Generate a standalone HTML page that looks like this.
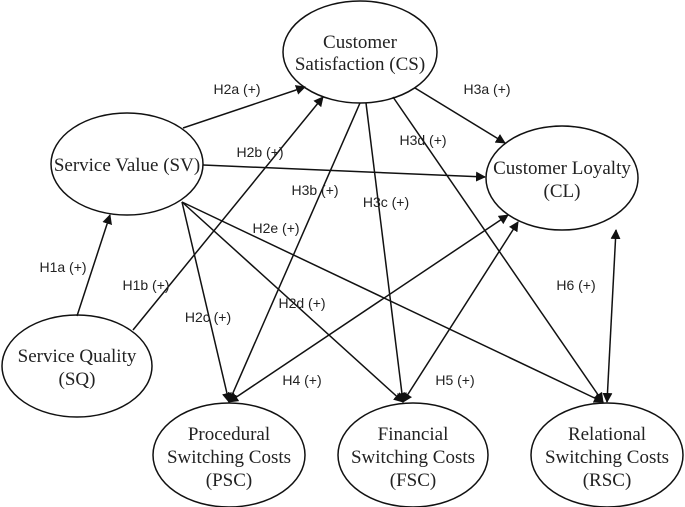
<!DOCTYPE html>
<html><head><meta charset="utf-8"><style>
html,body{margin:0;padding:0;background:#fff;}
svg{display:block;}
.n{font-family:"Liberation Serif",serif;font-size:19px;fill:#222;text-anchor:middle;}
.l{font-family:"Liberation Sans",sans-serif;font-size:14px;fill:#222;text-anchor:middle;}
</style></head><body>
<svg width="685" height="507" viewBox="0 0 685 507" xmlns="http://www.w3.org/2000/svg">
<defs>
<marker id="a" viewBox="0 0 10 10" refX="9" refY="5" markerWidth="10" markerHeight="10" orient="auto-start-reverse" markerUnits="userSpaceOnUse"><path d="M0,0 L10,5 L0,10 z" fill="#111"/></marker>
</defs>
<g stroke="#111" stroke-width="1.5" fill="none">
<ellipse cx="360" cy="52" rx="77" ry="51"/>
<ellipse cx="127" cy="164" rx="76" ry="51"/>
<ellipse cx="562" cy="178" rx="76" ry="52"/>
<ellipse cx="77" cy="366" rx="75" ry="51"/>
<ellipse cx="229" cy="455" rx="76" ry="52"/>
<ellipse cx="413" cy="455" rx="75" ry="52"/>
<ellipse cx="607" cy="455" rx="76" ry="52"/>
<line x1="183" y1="128" x2="305" y2="87" marker-end="url(#a)"/>
<line x1="77" y1="316" x2="110" y2="215" marker-end="url(#a)"/>
<line x1="133" y1="330" x2="323" y2="97" marker-end="url(#a)"/>
<line x1="203" y1="165" x2="485" y2="177" marker-end="url(#a)"/>
<line x1="415" y1="88" x2="505" y2="143" marker-end="url(#a)"/>
<line x1="182" y1="202" x2="229" y2="402" marker-end="url(#a)"/>
<line x1="182" y1="202" x2="403" y2="402" marker-end="url(#a)"/>
<line x1="182" y1="202" x2="603" y2="402" marker-end="url(#a)"/>
<line x1="360" y1="103" x2="229" y2="402" marker-end="url(#a)"/>
<line x1="366" y1="103" x2="403" y2="402" marker-end="url(#a)"/>
<line x1="393" y1="97" x2="603" y2="402" marker-end="url(#a)"/>
<line x1="508" y1="215" x2="229" y2="402" marker-start="url(#a)" marker-end="url(#a)"/>
<line x1="518" y1="222" x2="403" y2="402" marker-start="url(#a)" marker-end="url(#a)"/>
<line x1="616" y1="230" x2="607" y2="402" marker-start="url(#a)" marker-end="url(#a)"/>
</g>
<text class="n" x="360" y="48">Customer</text>
<text class="n" x="360" y="70">Satisfaction (CS)</text>
<text class="n" x="127" y="171">Service Value (SV)</text>
<text class="n" x="562" y="174">Customer Loyalty</text>
<text class="n" x="562" y="197">(CL)</text>
<text class="n" x="77" y="362">Service Quality</text>
<text class="n" x="77" y="385">(SQ)</text>
<text class="n" x="229" y="440">Procedural</text>
<text class="n" x="229" y="463">Switching Costs</text>
<text class="n" x="229" y="486">(PSC)</text>
<text class="n" x="413" y="440">Financial</text>
<text class="n" x="413" y="463">Switching Costs</text>
<text class="n" x="413" y="486">(FSC)</text>
<text class="n" x="607" y="440">Relational</text>
<text class="n" x="607" y="463">Switching Costs</text>
<text class="n" x="607" y="486">(RSC)</text>
<text class="l" x="237" y="94">H2a (+)</text>
<text class="l" x="487" y="94">H3a (+)</text>
<text class="l" x="260" y="157">H2b (+)</text>
<text class="l" x="423" y="145">H3d (+)</text>
<text class="l" x="315" y="195">H3b (+)</text>
<text class="l" x="386" y="207">H3c (+)</text>
<text class="l" x="276" y="233">H2e (+)</text>
<text class="l" x="63" y="272">H1a (+)</text>
<text class="l" x="146" y="290">H1b (+)</text>
<text class="l" x="302" y="308">H2d (+)</text>
<text class="l" x="208" y="322">H2c (+)</text>
<text class="l" x="576" y="290">H6 (+)</text>
<text class="l" x="302" y="385">H4 (+)</text>
<text class="l" x="455" y="385">H5 (+)</text>
</svg>
</body></html>
